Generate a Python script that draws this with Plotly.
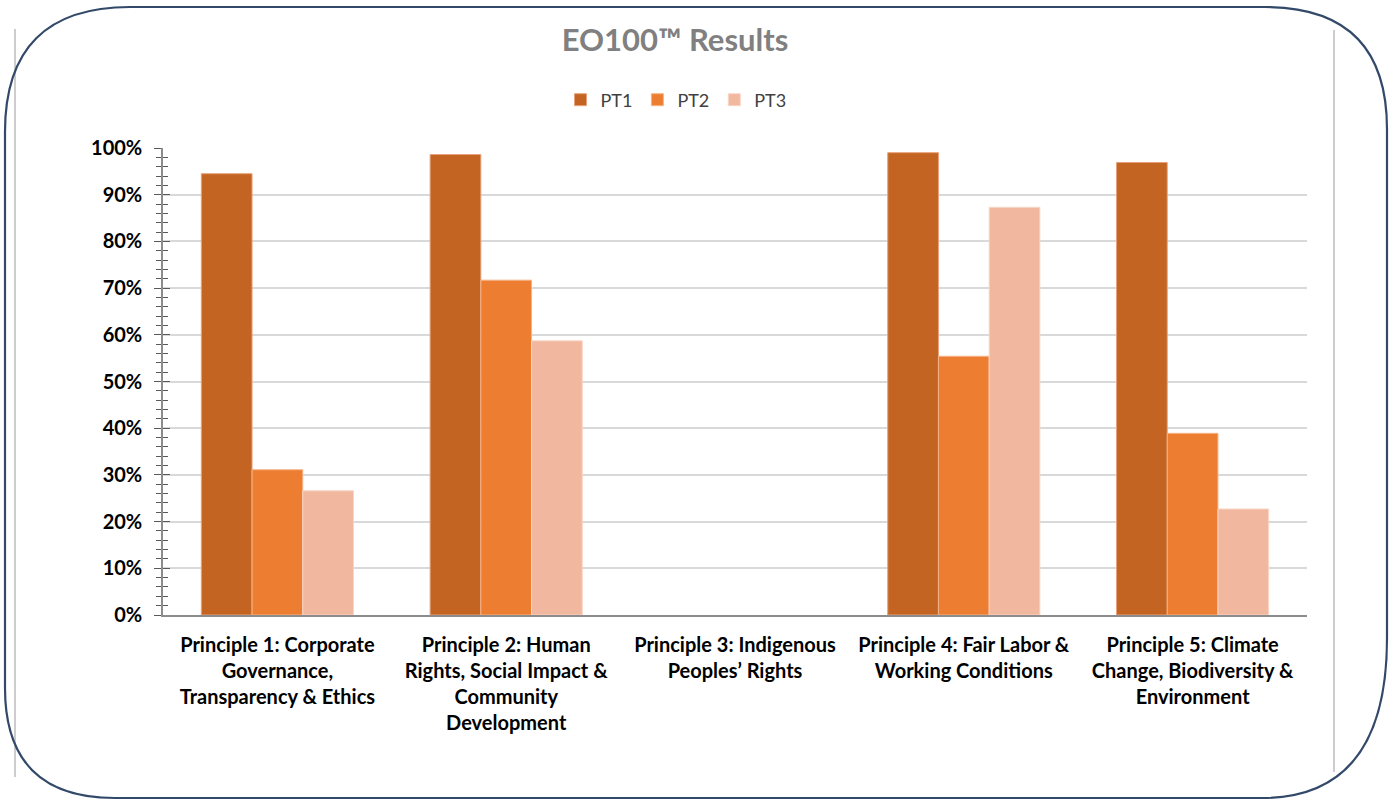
import plotly.graph_objects as go

categories = [
    "Principle 1: Corporate<br>Governance,<br>Transparency & Ethics",
    "Principle 2: Human<br>Rights, Social Impact &<br>Community<br>Development",
    "Principle 3: Indigenous<br>Peoples’ Rights",
    "Principle 4: Fair Labor &<br>Working Conditions",
    "Principle 5: Climate<br>Change, Biodiversity &<br>Environment",
]
pt1 = [0.945, 0.986, None, 0.990, 0.969]
pt2 = [0.311, 0.717, None, 0.554, 0.389]
pt3 = [0.266, 0.587, None, 0.873, 0.227]
series_names = ["PT1", "PT2", "PT3"]
colors = ["#c36422", "#ed7d31", "#f1b89f"]
edge_colors = ["#e8a27a", "#f5b487", "#f8d6c6"]
y_ticks = [0, 0.1, 0.2, 0.3, 0.4, 0.5, 0.6, 0.7, 0.8, 0.9, 1.0]
y_ticktext = ["0%", "10%", "20%", "30%", "40%", "50%", "60%", "70%", "80%", "90%", "100%"]

W, H = 1394, 801
L, R, T, B = 163, 87, 148, 186
PW, PH = W - L - R, H - T - B

def px(x):
    return (x - L) / PW

def py(y):
    return (H - B - y) / PH

FONT = "Lato, 'Open Sans', sans-serif"

fig = go.Figure()
for name, vals, c, ec in zip(series_names, [pt1, pt2, pt3], colors, edge_colors):
    fig.add_trace(go.Bar(
        name=name, x=categories, y=vals,
        marker=dict(color=c, line=dict(color=ec, width=1)),
    ))

fig.update_layout(
    width=W, height=H,
    margin=dict(l=L, r=R, t=T, b=B),
    paper_bgcolor="white", plot_bgcolor="white",
    barmode="group", bargap=0.335, bargroupgap=0,
    font=dict(family=FONT, color="#000000"),
    title=dict(
        text="<b>EO100™ Results</b>",
        x=675 / W, xanchor="center",
        y=1 - 40 / H, yanchor="middle",
        font=dict(size=31, color="#808080", family=FONT),
    ),
    legend=dict(
        orientation="h", x=px(676), xanchor="center",
        y=py(100), yanchor="middle",
        font=dict(size=18, color="#404040", family=FONT),
        itemwidth=30,
        bgcolor="rgba(0,0,0,0)",
    ),
    showlegend=True,
    xaxis=dict(
        showline=True, linecolor="#8c8c8c", linewidth=1.5,
        ticks="", showgrid=False,
        tickfont=dict(size=20, color="#000000", family=FONT, weight="bold"),
        ticklabelstandoff=11,
    ),
    yaxis=dict(
        range=[0, 1.0], tickvals=y_ticks, ticktext=y_ticktext,
        tickfont=dict(size=20, color="#000000", family=FONT, weight="bold"),
        showline=True, linecolor="#8c8c8c", linewidth=1.5,
        ticks="outside", ticklen=7, tickcolor="#595959", tickwidth=1.2,
        minor=dict(ticks="outside", ticklen=5, dtick=0.02, tickcolor="#595959", tickwidth=1.2, showgrid=False),
        showgrid=True, gridcolor="#d9d9d9", gridwidth=1.6,
        zeroline=False,
        ticklabelstandoff=8,
    ),
    yaxis2=dict(
        overlaying="y", matches="y", side="left", anchor="x",
        tickvals=y_ticks, showticklabels=False,
        ticks="inside", ticklen=7, tickcolor="#595959", tickwidth=1.2,
        minor=dict(ticks="inside", ticklen=5, dtick=0.02, tickcolor="#595959", tickwidth=1.2, showgrid=False),
        showgrid=False, showline=False, zeroline=False,
    ),
)

# invisible trace to activate yaxis2 for the inward tick marks
fig.add_trace(go.Scatter(x=[categories[0]], y=[0], yaxis="y2", mode="markers",
                         marker=dict(opacity=0), showlegend=False, hoverinfo="skip"))

# screenshot artefacts: thin gray frame lines
for x0, y0, x1, y1 in [(15, 29, 15, 777), (1334, 30, 1334, 772), (960, 798, 1270, 798)]:
    fig.add_shape(type="line", xref="paper", yref="paper",
                  x0=px(x0), y0=py(y0), x1=px(x1), y1=py(y1),
                  line=dict(color="#9a9a9a", width=1))

# rounded outer border
x_l, x_r, y_t, y_b = 5, 1387, 7, 798
r_tl, r_tr, r_bl, r_br = 125, 122, 110, 125
r_brv = 160
path = (
    f"M {px(x_l + r_tl)},{py(y_t)} "
    f"L {px(x_r - r_tr)},{py(y_t)} "
    f"Q {px(x_r)},{py(y_t)} {px(x_r)},{py(y_t + r_tr)} "
    f"L {px(x_r)},{py(y_b - r_brv)} "
    f"Q {px(x_r)},{py(y_b)} {px(x_r - r_br)},{py(y_b)} "
    f"L {px(x_l + r_bl)},{py(y_b)} "
    f"Q {px(x_l)},{py(y_b)} {px(x_l)},{py(y_b - r_bl)} "
    f"L {px(x_l)},{py(y_t + r_tl)} "
    f"Q {px(x_l)},{py(y_t)} {px(x_l + r_tl)},{py(y_t)} Z"
)
fig.add_shape(type="path", xref="paper", yref="paper", path=path,
              line=dict(color="#33496a", width=2.2), layer="above")

fig.write_html(
    "out.html",
    config={"displayModeBar": False},
    post_script="document.body.style.margin='0';document.body.style.overflow='hidden';",
)
